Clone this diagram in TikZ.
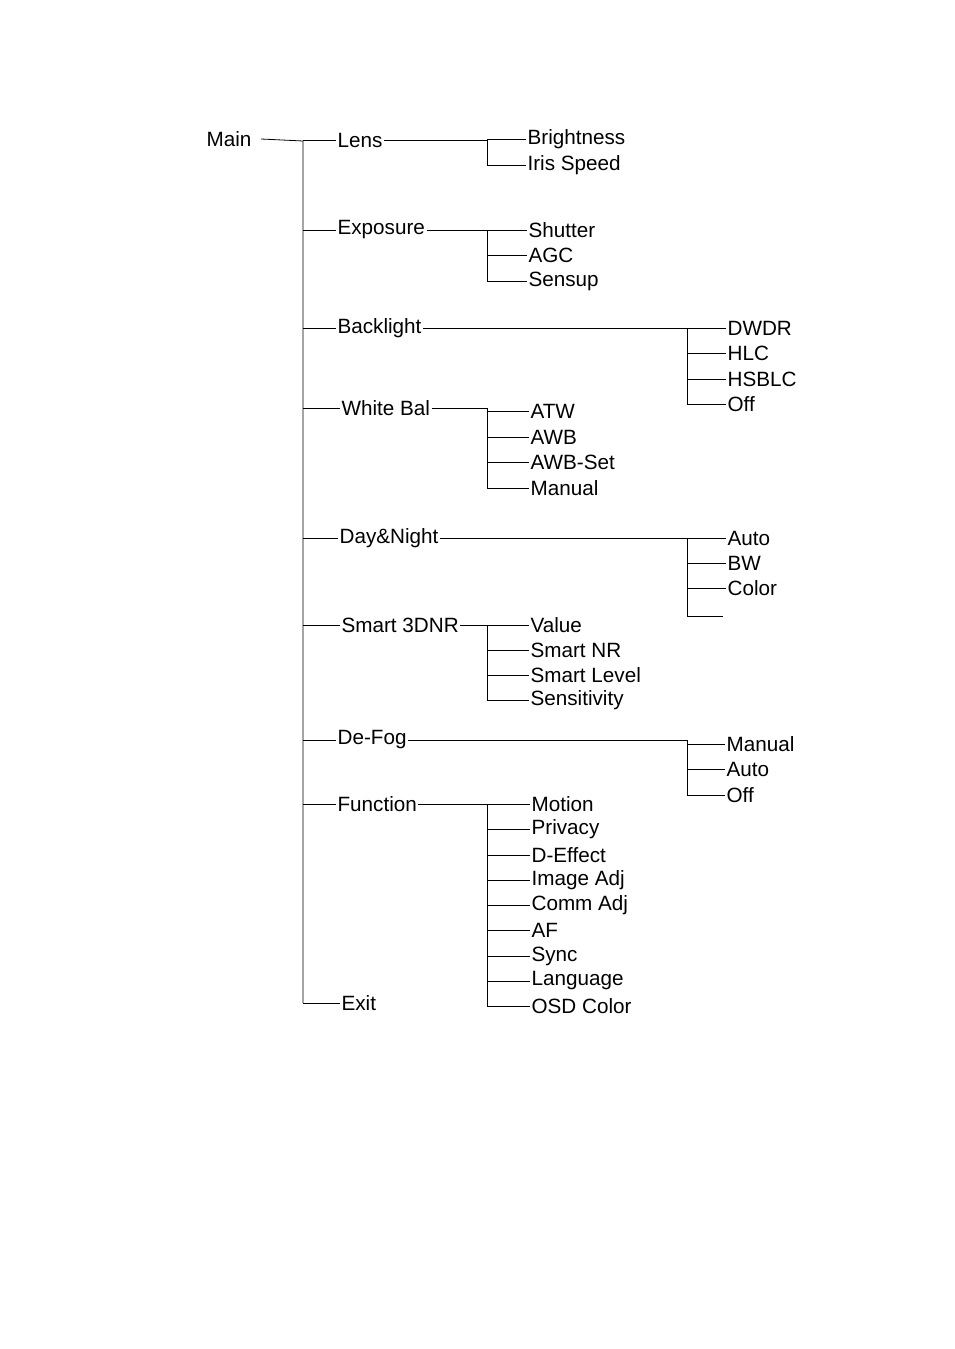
\documentclass[tikz,border=0pt]{standalone}
\usepackage{fontspec}
\setmainfont{Liberation Sans}
\tikzset{
  item/.style={anchor=west,inner sep=1pt,font=\fontsize{15.5}{17}\selectfont},
  wire/.style={line width=0.6pt}
}
\begin{document}
\begin{tikzpicture}[x=0.75pt,y=-0.75pt]
\useasboundingbox (0,0) rectangle (954,1349);
  \node[item] (main) at (205,139) {Main};
  \draw[wire] (main.east) ++(8,0) -- (303,141) -- (303,1003);
% first level
\foreach \nm/\txt/\yy/\xx/\ex in {lens/Lens/140/336/395, expo/Exposure/230/336/437,
    back/Backlight/328/336/437, white/White Bal/408/340/443, day/Day\&Night/538/338/453,
    dnr/Smart 3DNR/625/340/470, fog/De-Fog/740/336/418, func/Function/804/336/425,
    exit/Exit/1003/340/0}{
  \node[item] (\nm) at (\xx,\yy) {\txt};
  \draw[wire] (303,\yy) -- (\nm.west);
}
% second level
\newcommand\sub[5]{% parent, bus x, first y, list y/text, text x
  \draw[wire] (#1.east) -- (#2,#3);
  \foreach \yy/\txt [count=\i] in {#4}{
    \node[item] (#1-\i) at (#5,\yy) {\txt};
    \draw[wire] (#2,#3) |- (#1-\i.west);
  }
}
\sub{lens}{487}{140}{139/Brightness,165/Iris Speed}{526}
\sub{expo}{487}{230}{230/Shutter,255/AGC,281/Sensup}{527}
\sub{back}{687}{328}{328/DWDR,353/HLC,379/HSBLC,404/Off}{726}
\sub{white}{487}{408}{411/ATW,437/AWB,462/AWB-Set,488/Manual}{529}
\sub{day}{687}{538}{538/Auto,563/BW,588/Color}{726}
\draw[wire] (687,588) |- (723,616);
\sub{dnr}{487}{625}{625/Value,650/Smart NR,675/Smart Level,700/Sensitivity}{529}
\sub{fog}{687}{740}{744/Manual,769/Auto,795/Off}{725}
\sub{func}{487}{804}{804/Motion,829/Privacy,855/D-Effect,880/Image Adj,905/Comm Adj,930/AF,956/Sync,981/Language,1006/OSD Color}{530}
\end{tikzpicture}
\end{document}
